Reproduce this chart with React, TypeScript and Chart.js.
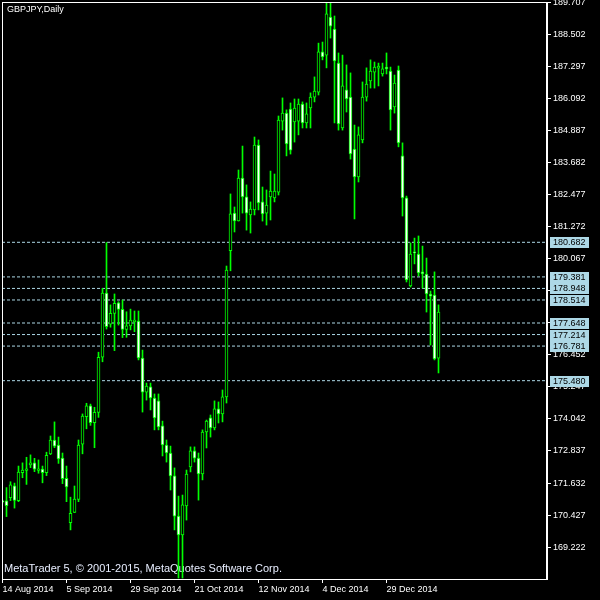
import React, { useEffect, useRef } from "react";
import { Chart, registerables } from "chart.js";
Chart.register(...registerables);

const symbolTitle = "GBPJPY,Daily";
const watermark = "MetaTrader 5, © 2001-2015, MetaQuotes Software Corp.";

const dateLabels = ["14 Aug 2014", "5 Sep 2014", "29 Sep 2014", "21 Oct 2014", "12 Nov 2014", "4 Dec 2014", "29 Dec 2014"];
const dateTickIndex = [0, 16, 32, 48, 64, 80, 96];

const priceTicks = [189.707, 188.502, 187.297, 186.092, 184.887, 183.682, 182.477, 181.272, 180.067, 178.862, 177.657, 176.452, 175.247, 174.042, 172.837, 171.632, 170.427, 169.222];

const levels = [180.682, 179.381, 178.948, 178.514, 177.648, 177.214, 176.781, 175.48];

const opens = [
  170.96, 170.96, 171.08, 171.53, 170.97, 172.02, 172.11, 172.31, 172.39, 172.11,
  172.16, 172.02, 172.73, 173.25, 173.06, 172.57, 171.81, 170.14, 170.53, 171.02,
  173.09, 174.13, 174.53, 173.90, 174.29, 176.36, 178.77, 177.60, 178.01, 178.41,
  178.16, 177.41, 177.54, 177.70, 177.72, 176.33, 175.05, 175.25, 174.83, 174.72,
  173.78, 173.06, 172.76, 171.90, 170.39, 169.68, 170.77, 172.24, 172.84, 172.57,
  171.97, 173.55, 174.08, 173.70, 174.42, 174.23, 174.87, 180.37, 181.78, 181.49,
  183.10, 182.39, 181.71, 181.90, 184.34, 182.20, 181.78, 182.39, 182.35, 182.57,
  185.24, 185.54, 185.69, 185.21, 185.24, 185.88, 185.17, 185.73, 186.14, 186.33,
  187.84, 187.72, 189.15, 188.70, 187.42, 184.98, 186.41, 186.14, 184.19, 183.14,
  184.53, 186.14, 186.75, 187.08, 187.23, 187.01, 187.27, 187.12, 185.77, 187.16,
  183.93, 182.35, 179.04, 180.32, 180.24, 179.57, 179.49, 178.74, 178.70, 176.33,
];
const highs = [
  170.99, 171.46, 171.68, 171.63, 172.27, 172.39, 172.60, 172.69, 172.56, 172.50,
  172.27, 172.79, 173.40, 173.93, 173.36, 172.76, 172.27, 171.10, 171.52, 173.25,
  174.23, 174.63, 174.60, 174.48, 176.55, 178.95, 180.67, 178.33, 178.74, 178.45,
  178.51, 178.07, 178.17, 178.10, 178.10, 176.63, 175.39, 175.39, 174.98, 174.98,
  173.96, 173.25, 173.02, 172.20, 171.14, 171.18, 172.12, 172.99, 172.99, 172.76,
  173.63, 174.00, 174.19, 174.72, 174.68, 175.13, 179.79, 182.50, 182.01, 183.40,
  184.30, 182.84, 182.20, 184.64, 184.53, 182.76, 182.65, 183.36, 183.25, 185.43,
  186.11, 185.66, 185.92, 186.07, 186.07, 185.96, 185.92, 186.30, 186.90, 188.17,
  188.21, 189.68, 189.68, 189.19, 187.80, 187.72, 187.35, 187.05, 185.09, 185.02,
  186.71, 187.24, 187.54, 187.46, 187.42, 187.42, 187.80, 187.27, 186.97, 187.31,
  184.42, 182.42, 180.66, 180.84, 180.92, 180.54, 180.09, 178.85, 179.57, 178.33,
];
const lows = [
  170.88, 170.37, 170.97, 170.69, 170.93, 171.83, 171.58, 172.21, 172.06, 172.00,
  171.64, 171.91, 172.70, 172.96, 172.37, 171.61, 170.93, 169.87, 170.52, 170.93,
  172.73, 173.67, 173.80, 172.96, 174.10, 176.19, 177.42, 177.49, 176.61, 177.57,
  177.10, 177.11, 177.39, 177.32, 176.26, 174.30, 174.75, 174.38, 173.63, 173.63,
  172.65, 172.42, 171.37, 169.87, 168.06, 168.06, 170.24, 172.05, 172.42, 170.99,
  171.75, 172.95, 173.36, 173.63, 173.89, 173.93, 174.64, 179.61, 181.07, 181.48,
  181.78, 181.14, 181.03, 181.71, 181.90, 181.48, 181.33, 181.52, 182.20, 182.46,
  184.90, 183.93, 184.00, 184.45, 184.72, 184.98, 184.98, 184.98, 185.96, 186.22,
  187.54, 187.24, 188.36, 185.17, 184.90, 184.90, 185.58, 183.81, 181.56, 182.95,
  184.42, 185.99, 186.48, 186.48, 186.56, 186.93, 187.01, 184.90, 185.54, 184.27,
  181.67, 179.19, 179.00, 179.87, 179.42, 178.96, 178.06, 176.82, 176.26, 175.77,
];
const closes = [
  170.92, 170.78, 171.56, 170.98, 172.04, 172.12, 172.17, 172.39, 172.15, 172.17,
  172.02, 172.67, 173.25, 173.02, 172.54, 171.80, 171.49, 170.49, 171.03, 173.06,
  174.15, 174.53, 173.90, 174.29, 176.36, 178.77, 177.51, 178.01, 178.39, 178.16,
  177.41, 177.54, 177.76, 177.76, 176.34, 175.05, 175.28, 174.83, 174.08, 173.74,
  173.06, 172.76, 171.90, 170.39, 169.68, 170.81, 171.97, 172.84, 172.57, 171.97,
  173.55, 173.96, 173.70, 174.42, 174.23, 174.87, 179.64, 181.75, 181.49, 183.10,
  182.39, 181.78, 181.93, 184.34, 182.16, 181.75, 182.08, 182.61, 182.61, 185.28,
  185.54, 184.38, 184.15, 185.73, 185.88, 185.17, 185.51, 186.14, 186.37, 187.84,
  187.65, 189.27, 188.81, 187.50, 185.13, 186.56, 186.07, 184.00, 183.14, 184.72,
  186.14, 186.63, 187.12, 187.27, 187.31, 187.20, 187.20, 185.66, 186.67, 184.42,
  182.35, 179.27, 180.24, 180.28, 179.53, 179.49, 178.74, 178.66, 176.30, 178.06,
];

const X_MIN = -0.125;
const X_MAX = 136.125;
const Y_MIN = 168.024;
const Y_MAX = 189.716;

const FONT = "'Liberation Sans', Arial, sans-serif";
const GREEN = "#00ff00";
const LEVEL_COLOR = "#add8e6";

export default function App() {
  const ref = useRef<HTMLCanvasElement | null>(null);

  useEffect(() => {
    const canvas = ref.current;
    if (!canvas) return;

    const wickData = highs.map((h, i) => ({ x: i, y: [lows[i], h] }));
    const bodyData = opens.map((o, i) => ({ x: i, y: [o, closes[i]] }));
    const bodyFill = opens.map((o, i) => (closes[i] >= o ? "#000000" : "#ffffff"));

    const mtPlugin = {
      id: "mtStyle",
      beforeDraw(chart: any) {
        const ctx = chart.ctx;
        ctx.save();
        ctx.fillStyle = "#000000";
        ctx.fillRect(0, 0, chart.width, chart.height);
        ctx.restore();
      },
      beforeDatasetsDraw(chart: any) {
        const ctx = chart.ctx;
        const { left, top, bottom } = chart.chartArea;
        ctx.save();
        ctx.fillStyle = "#ffffff";
        ctx.textBaseline = "middle";
        ctx.textAlign = "left";
        ctx.font = `9px ${FONT}`;
        ctx.fillText(symbolTitle, left + 5, top + 8);
        ctx.font = `11px ${FONT}`;
        ctx.fillStyle = "#e8eeff";
        ctx.fillText(watermark, left + 2, bottom - 10);
        ctx.restore();
      },
      afterDraw(chart: any) {
        const ctx = chart.ctx;
        const { left, top, right, bottom } = chart.chartArea;
        const y = chart.scales.y;
        ctx.save();
        ctx.fillStyle = "#ffffff";
        ctx.fillRect(left, top, right - left, 1);
        ctx.fillRect(left, top, 1, bottom - top);
        ctx.fillRect(right - 1, top, 2, bottom - top + 1);
        ctx.fillRect(left, bottom, right - left + 1, 1);

        ctx.font = `9px ${FONT}`;
        ctx.textBaseline = "middle";
        ctx.textAlign = "left";
        levels.forEach((v) => {
          const py = Math.round(y.getPixelForValue(v));
          ctx.fillStyle = LEVEL_COLOR;
          ctx.fillRect(right + 3, py - 5, 39, 11);
          ctx.fillStyle = "#000000";
          ctx.fillText(v.toFixed(3), right + 6, py + 0.5);
        });
        ctx.restore();
      },
    };

    const chart = new Chart(canvas, {
      type: "bar",
      data: {
        datasets: [
          ...levels.map((v) => ({
            type: "line" as const,
            data: [
              { x: X_MIN, y: v },
              { x: X_MAX, y: v },
            ],
            borderColor: LEVEL_COLOR,
            borderWidth: 1,
            borderDash: [3, 2],
            pointRadius: 0,
            order: 3,
          })),
          {
            type: "bar" as const,
            data: wickData as any,
            backgroundColor: GREEN,
            borderWidth: 0,
            barThickness: 1,
            grouped: false,
            order: 2,
          },
          {
            type: "bar" as const,
            data: bodyData as any,
            backgroundColor: bodyFill,
            borderColor: GREEN,
            borderWidth: 1,
            borderSkipped: false,
            barThickness: 3,
            grouped: false,
            order: 1,
          },
        ] as any,
      },
      options: {
        responsive: false,
        animation: false,
        devicePixelRatio: 1,
        events: [],
        layout: { padding: { left: 2, top: 2, right: 0, bottom: 0 } },
        plugins: { legend: { display: false }, tooltip: { enabled: false } },
        scales: {
          x: {
            type: "linear",
            position: "bottom",
            min: X_MIN,
            max: X_MAX,
            offset: false,
            afterBuildTicks: (s: any) => {
              s.ticks = dateTickIndex.map((v) => ({ value: v }));
            },
            afterFit: (s: any) => {
              s.height = 21;
              s.paddingLeft = 0;
              s.paddingRight = 0;
            },
            ticks: {
              callback: (_v: any, i: number) => dateLabels[i],
              align: "start",
              maxRotation: 0,
              minRotation: 0,
              autoSkip: false,
              color: "#ffffff",
              font: { family: FONT, size: 9 },
              padding: 1,
            },
            grid: { offset: false, drawOnChartArea: false, drawTicks: true, tickLength: 4, color: "#ffffff" },
            border: { display: false },
          },
          y: {
            type: "linear",
            position: "right",
            min: Y_MIN,
            max: Y_MAX,
            afterBuildTicks: (s: any) => {
              s.ticks = priceTicks.map((v) => ({ value: v }));
            },
            afterFit: (s: any) => {
              s.width = 53;
              s.paddingTop = 0;
              s.paddingBottom = 0;
            },
            ticks: {
              callback: (v: any) => Number(v).toFixed(3),
              color: "#ffffff",
              font: { family: FONT, size: 9 },
              padding: 2,
              autoSkip: false,
            },
            grid: { drawOnChartArea: false, drawTicks: true, tickLength: 4, color: "#ffffff" },
            border: { display: false },
          },
        },
      } as any,
      plugins: [mtPlugin],
    });

    return () => chart.destroy();
  }, []);

  return (
    <div style={{ position: "fixed", left: 0, top: 0, width: 600, height: 600, background: "#000" }}>
      <canvas ref={ref} width={600} height={600} style={{ display: "block" }} />
    </div>
  );
}
